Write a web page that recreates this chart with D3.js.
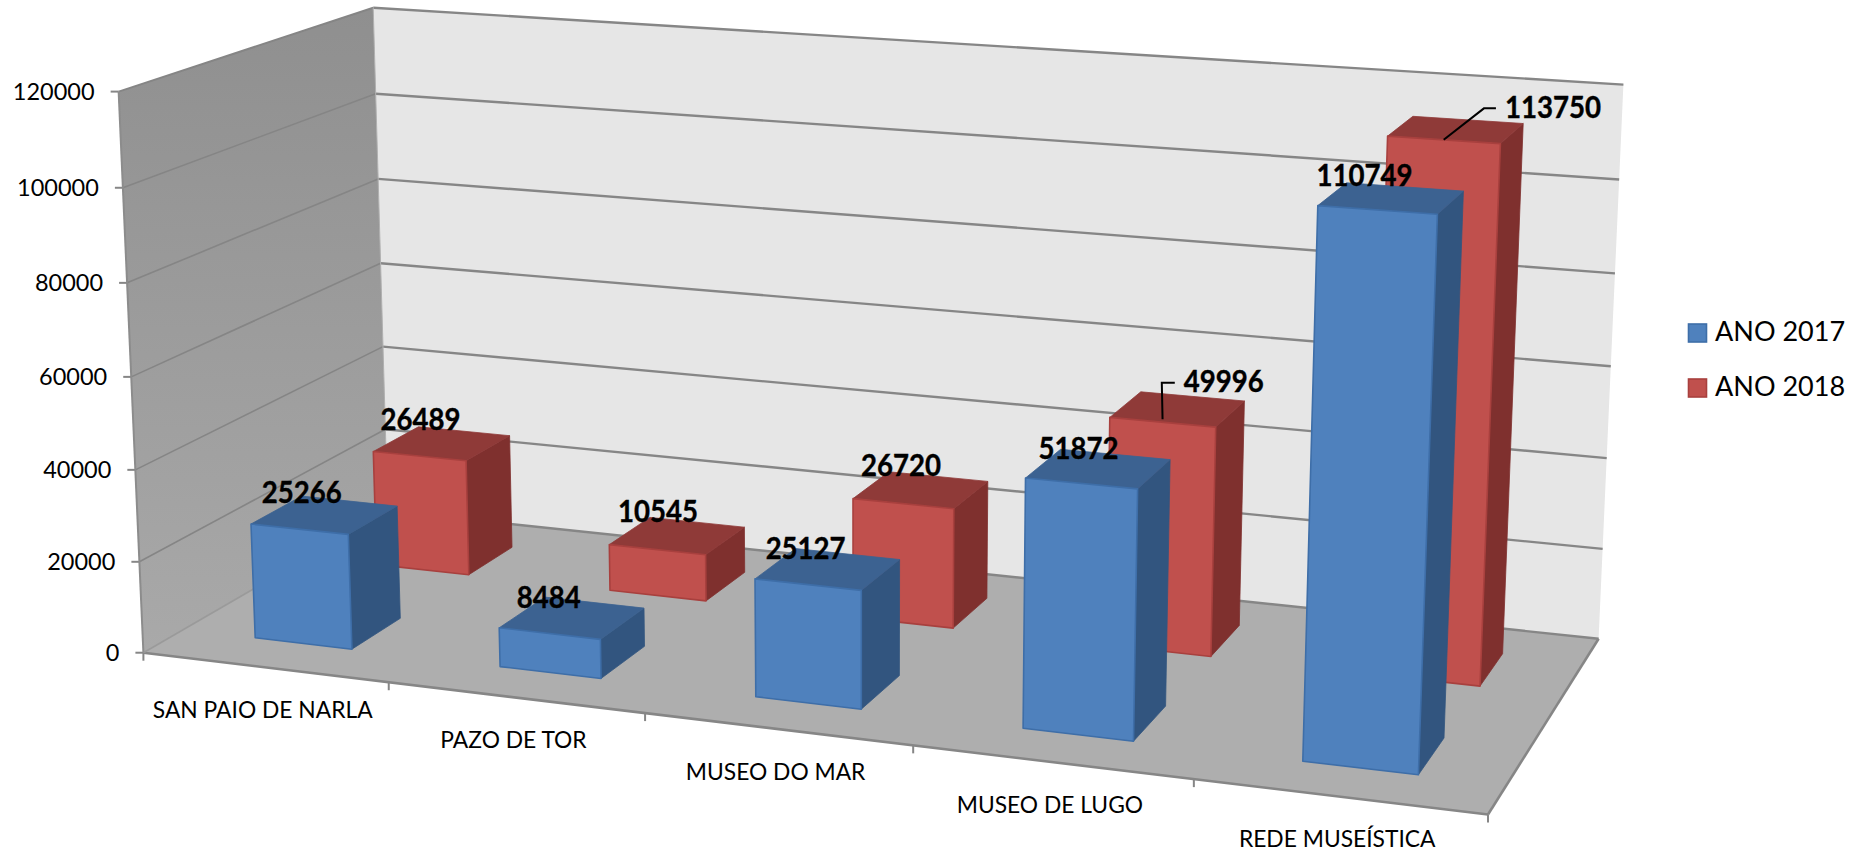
<!DOCTYPE html>
<html><head><meta charset="utf-8">
<script src="https://cdn.jsdelivr.net/npm/d3@7/dist/d3.min.js"></script>
<style>html,body{margin:0;background:#fff}svg{display:block}text{font-family:Lato,"Open Sans",sans-serif;fill:#000}</style>
</head><body><svg id="c" width="1866" height="856"></svg>
<script>
const categories = ["SAN PAIO DE NARLA","PAZO DE TOR","MUSEO DO MAR","MUSEO DE LUGO","REDE MUSEÍSTICA"];
const seriesNames = ["ANO 2017","ANO 2018"];
const values2017 = [25266,8484,25127,51872,110749];
const values2018 = [26489,10545,26720,49996,113750];
const valueTicks = [0,20000,40000,60000,80000,100000,120000];

// layout: screen positions of the chart box corners, used to fit the camera
const boxCorners = [
 [0,0,0,145,651],[1,0,0,1488,816],[1,1,0,1599,637],[0,1,0,386,513],
 [0,0,1,117,92],[0,1,1,375,7],[1,1,1,1623,85]];
function solve(A,b){const n=b.length,M=A.map((r,i)=>[...r,b[i]]);
 for(let i=0;i<n;i++){let p=i;for(let k=i+1;k<n;k++)if(Math.abs(M[k][i])>Math.abs(M[p][i]))p=k;[M[i],M[p]]=[M[p],M[i]];
  for(let k=0;k<n;k++)if(k!==i){const f=M[k][i]/M[i][i];for(let j=i;j<=n;j++)M[k][j]-=f*M[i][j];}}
 return M.map((r,i)=>r[n]/r[i]);}
const rows=[],rhs=[];
boxCorners.forEach(([X,Y,Z,u0,v0])=>{const u=u0/1000,v=v0/1000;
 rows.push([X,Y,Z,1,0,0,0,0,-u*X,-u*Y,-u*Z]);rhs.push(u);
 rows.push([0,0,0,0,X,Y,Z,1,-v*X,-v*Y,-v*Z]);rhs.push(v);});
const ATA=d3.range(11).map(i=>d3.range(11).map(j=>d3.sum(rows,r=>r[i]*r[j])));
const ATb=d3.range(11).map(i=>d3.sum(rows,(r,k)=>r[i]*rhs[k]));
const P=solve(ATA,ATb);
function project(X,Y,Z){const w=P[8]*X+P[9]*Y+P[10]*Z+1;
 return [1000*(P[0]*X+P[1]*Y+P[2]*Z+P[3])/w,1000*(P[4]*X+P[5]*Y+P[6]*Z+P[7])/w];}

const xScale=d3.scaleBand(categories,[0,1]).paddingInner(0.6).paddingOuter(0.3);
const depthScale=d3.scaleBand(seriesNames,[0,1]).paddingInner(0.6).paddingOuter(0.3);
const zScale=d3.scaleLinear([0,120000],[0,1]);

const svg=d3.select("#c");
const defs=svg.append("defs");
const lg=defs.append("linearGradient").attr("id","wall").attr("x1",0).attr("y1",0).attr("x2",0).attr("y2",1);
lg.append("stop").attr("offset",0).attr("stop-color","#8F8F8F");
lg.append("stop").attr("offset",1).attr("stop-color","#A9A9A9");
const poly=(pts,fill,stroke,sw)=>svg.append("polygon").attr("points",pts.map(p=>p.map(n=>n.toFixed(1)).join(",")).join(" "))
 .attr("fill",fill).attr("stroke",stroke||"none").attr("stroke-width",sw||0).attr("stroke-linejoin","round");
const seg=(a,b,c,w)=>svg.append("line").attr("x1",a[0]).attr("y1",a[1]).attr("x2",b[0]).attr("y2",b[1]).attr("stroke",c).attr("stroke-width",w);

// walls + floor
poly([project(0,1,0),project(1,1,0),project(1,1,1),project(0,1,1)],"#E6E6E6");
poly([project(0,0,0),project(0,1,0),project(0,1,1),project(0,0,1)],"url(#wall)");
poly([project(0,0,0),project(1,0,0),project(1,1,0),project(0,1,0)],"#AEAEAE");

// gridlines and value ticks
valueTicks.forEach(t=>{const z=zScale(t);
 if(t>0)seg(project(0,0,z),project(0,1,z),"#858585",t===120000?2:1.6);
 seg(project(0,1,z),project(1,1,z),"#868686",2.4);
 const a=project(0,0,z);seg([a[0]-8,a[1]],a,"#868686",2);
 svg.append("text").attr("x",a[0]-24).attr("y",a[1]+2).attr("text-anchor","end").attr("dominant-baseline","middle")
  .attr("font-size",23.5).text(t);
});
seg(project(0,0,0),project(0,0,1),"#8C8C8C",2);
seg(project(0,1,0),project(0,1,1),"#B0B0B0",1);
seg(project(0,0,0),project(1,0,0),"#868686",2.6);
seg(project(1,0,0),project(1,1,0),"#868686",2.6);
seg(project(0,0,0),project(0,1,0),"#9A9A9A",1.6);

// category ticks and labels
d3.range(categories.length+1).forEach(i=>{const step=xScale.step();
 const a=project(i*step,0,0);seg(a,[a[0],a[1]+8],"#868686",2);});
categories.forEach((c,i)=>{const u=xScale(c)+xScale.bandwidth()/2,a=project(u,0,0);
 svg.append("text").attr("x",a[0]-2).attr("y",a[1]+45).attr("text-anchor","middle").attr("dominant-baseline","middle")
  .attr("font-size",22.8).text(c);});

// bars: back row first
const faceStyles={
 "ANO 2017":{front:"#4F81BD",side:"#32557F",top:"#3C6291",edge:"#3E6EA8"},
 "ANO 2018":{front:"#C0504D",side:"#7F302E",top:"#8F3A38",edge:"#A8403E"}};
const seriesValues=[values2017,values2018];
// label offsets from the top-back-left corner of each bar
const labelNudge=[[[0,-1],[4,3],[10,3],[18,2],[18,-4]],[[2,-4],[8,-3],[12,-3],[83,-7],[140,-6]]];
const labels=[];
[1,0].forEach(s=>{const name=seriesNames[s],st=faceStyles[name],d0=depthScale(name),d1=d0+depthScale.bandwidth();
 categories.forEach((c,i)=>{const x0=xScale(c),x1=x0+xScale.bandwidth(),z=zScale(seriesValues[s][i]);
  poly([project(x1,d0,0),project(x1,d1,0),project(x1,d1,z),project(x1,d0,z)],st.side,st.side,0.8);
  poly([project(x0,d0,z),project(x1,d0,z),project(x1,d1,z),project(x0,d1,z)],st.top,st.top,0.8);
  poly([project(x0,d0,0),project(x1,d0,0),project(x1,d0,z),project(x0,d0,z)],st.front,st.edge,1.6);
  const p=project(x0,d1,z),n=labelNudge[s][i];
  labels.push({t:seriesValues[s][i],x:p[0]+n[0],y:p[1]+n[1],s,i,front:project((x0+x1)/2,d0,z)});
 });});

// leader lines for the two moved labels
const lineGen=d3.line();
labels.filter(l=>l.s===1&&l.i>=3).forEach(l=>{
 const lead=l.i===4?[[l.front[0],l.front[1]],[l.x-69,l.y-2],[l.x-57,l.y-2]]:[[l.front[0],l.front[1]-3],[l.x-62,l.y-2],[l.x-49,l.y-2]];
 svg.append("path").attr("d",lineGen(lead)).attr("fill","none").attr("stroke","#000").attr("stroke-width",2);
});
labels.forEach(l=>{const w=16*String(l.t).length;
 svg.append("text").attr("x",l.x).attr("y",l.y).attr("text-anchor","middle").attr("dominant-baseline","middle")
 .attr("font-size",30).attr("font-weight",700).attr("textLength",w).attr("lengthAdjust","spacingAndGlyphs")
 .attr("stroke","#000").attr("stroke-width",0.4).text(l.t);});

// legend
seriesNames.forEach((n,i)=>{const y=333+i*55,st=faceStyles[n];
 svg.append("rect").attr("x",1688.5).attr("y",y-9).attr("width",18).attr("height",18).attr("fill",st.front).attr("stroke",st.edge).attr("stroke-width",1.6);
 svg.append("text").attr("x",1715).attr("y",y+1).attr("dominant-baseline","middle").attr("font-size",27).text(n);});
</script></body></html>
